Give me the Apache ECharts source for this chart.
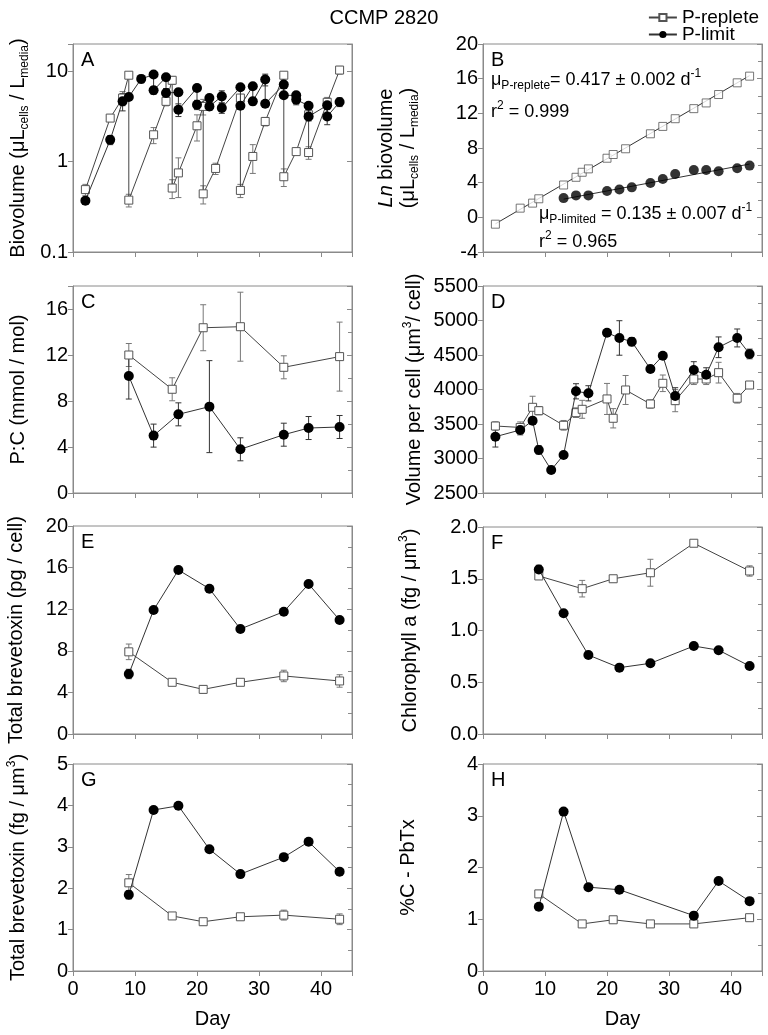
<!DOCTYPE html>
<html>
<head>
<meta charset="utf-8">
<title>CCMP 2820</title>
<script src="https://cdn.jsdelivr.net/npm/echarts@6/dist/echarts.min.js"></script>
<style>
  html, body { margin: 0; padding: 0; background: #fff; }
  #chart { width: 768px; height: 1035px; }
</style>
</head>
<body>
<div id="chart"></div>
<script>
// ---- A: biovolume (log) ----
const aRepDay = [2, 6, 8, 9, 9, 13, 15, 16, 16, 17, 20, 21, 21, 23, 27, 27, 29, 31, 34, 34, 36, 38, 38, 41, 43]
const aRepVal = [0.49, 3.03, 5.05, 9.03, 0.375, 1.98, 4.64, 7.94, 0.51, 0.75, 2.49, 4.08, 0.44, 0.84, 5.05, 0.48, 1.14, 2.78, 9.03, 0.68, 1.29, 3.3, 1.26, 4.53, 10.3]
const aRepErr = [0.07, 0.2, 0.9, 0.6, 0.06, 0.4, 0.5, 0.8, 0.12, 0.35, 0.8, 0.8, 0.1, 0.12, 0.4, 0.08, 0.4, 0.3, 0.6, 0.15, 0.1, 0.5, 0.2, 0.6, 1.0]
const aLimDay = [2, 6, 8, 9, 11, 13, 13, 15, 15, 17, 17, 20, 20, 22, 22, 24, 24, 27, 27, 29, 29, 31, 31, 34, 34, 36, 36, 38, 38, 41, 41, 43]
const aLimVal = [0.37, 1.74, 4.64, 5.19, 8.22, 9.19, 6.15, 8.58, 5.74, 5.85, 3.75, 6.53, 4.26, 5.05, 4.08, 5.27, 3.92, 6.64, 4.15, 6.81, 4.64, 8.08, 4.37, 7.11, 5.41, 5.41, 4.85, 4.15, 3.16, 4.19, 3.16, 4.56]
const aLimErr = [0.03, 0.2, 1.0, 0.3, 0.8, 0.5, 0.6, 0.4, 0.7, 0.5, 0.6, 0.3, 0.5, 0.3, 0.4, 0.8, 0.5, 0.3, 0.3, 0.4, 0.4, 1.2, 0.3, 0.4, 0.3, 0.3, 0.6, 0.3, 0.3, 0.8, 0.6, 0.5]

// ---- B: ln biovolume + fits ----
const bRepDay = [2, 6, 8, 9, 13, 15, 16, 17, 20, 21, 23, 27, 29, 31, 34, 36, 38, 41, 43]
const bRepVal = [-0.79, 1.06, 1.64, 2.14, 3.73, 4.62, 5.2, 5.59, 6.82, 7.25, 7.91, 9.64, 10.49, 11.38, 12.54, 13.2, 14.17, 15.52, 16.29]
const bLimDay = [13, 15, 17, 20, 22, 24, 27, 29, 31, 34, 36, 38, 41, 43]
const bLimVal = [2.22, 2.53, 2.53, 3.03, 3.22, 3.46, 3.96, 4.43, 5.01, 5.47, 5.47, 5.31, 5.66, 5.97]
const bRepFitDay = [2, 43]
const bRepFitVal = [-0.75, 16.35]
const bLimFitDay = [13, 43]
const bLimFitVal = [2.1, 6.15]

// ---- C: P:C ----
const cRepDay = [9, 16, 21, 27, 34, 43]
const cRepVal = [12.0, 9.02, 14.37, 14.46, 10.93, 11.86]
const cRepErr = [1, 1, 2, 3, 1, 3]
const cLimDay = [9, 13, 17, 22, 27, 34, 38, 43]
const cLimVal = [10.17, 4.99, 6.84, 7.51, 3.8, 5.07, 5.65, 5.74]
const cLimErr = [2, 1, 1, 4, 1, 1, 1, 1]

// ---- D: volume per cell ----
const dRepDay = [2, 6, 8, 9, 13, 15, 16, 20, 21, 23, 27, 29, 31, 34, 36, 38, 41, 43]
const dRepVal = [3471, 3450, 3742, 3693, 3481, 3664, 3713, 3863, 3583, 3993, 3790, 4090, 3838, 4152, 4152, 4244, 3873, 4065]
const dRepErr = [60, 80, 160, 60, 70, 70, 130, 225, 140, 210, 60, 120, 160, 80, 80, 150, 70, 40]
const dLimDay = [2, 6, 8, 9, 11, 13, 15, 17, 20, 22, 24, 27, 29, 31, 34, 36, 38, 41, 43]
const dLimVal = [3316, 3413, 3548, 3124, 2834, 3051, 3974, 3945, 4823, 4747, 4693, 4297, 4490, 3906, 4283, 4215, 4612, 4747, 4515]
const dLimErr = [150, 70, 50, 60, 0, 0, 110, 110, 0, 250, 60, 40, 0, 120, 120, 100, 150, 130, 70]

// ---- E: total brevetoxin per cell ----
const eRepDay = [9, 16, 21, 27, 34, 43]
const eRepVal = [7.9, 4.97, 4.29, 4.97, 5.58, 5.1]
const eRepErr = [0.75, 0.3, 0.35, 0.2, 0.55, 0.6]
const eLimDay = [9, 13, 17, 22, 27, 34, 38, 43]
const eLimVal = [5.77, 11.92, 15.77, 13.97, 10.1, 11.76, 14.42, 10.96]
const eLimErr = [0.45, 0, 0, 0, 0, 0, 0, 0]

// ---- F: chlorophyll a ----
const fRepDay = [9, 16, 21, 27, 34, 43]
const fRepVal = [1.527, 1.404, 1.5, 1.558, 1.843, 1.575]
const fRepErr = [0.03, 0.08, 0.03, 0.13, 0.02, 0.05]
const fLimDay = [9, 13, 17, 22, 27, 34, 38, 43]
const fLimVal = [1.59, 1.166, 0.763, 0.641, 0.683, 0.85, 0.81, 0.657]
const fLimErr = [0.04, 0, 0, 0, 0, 0, 0, 0]

// ---- G: total brevetoxin per volume ----
const gRepDay = [9, 16, 21, 27, 34, 43]
const gRepVal = [2.13, 1.33, 1.19, 1.31, 1.35, 1.25]
const gRepErr = [0.2, 0.05, 0.08, 0.05, 0.12, 0.13]
const gLimDay = [9, 13, 17, 22, 27, 34, 38, 43]
const gLimVal = [1.84, 3.89, 3.99, 2.94, 2.34, 2.75, 3.12, 2.4]
const gLimErr = [0.1, 0, 0, 0, 0, 0, 0, 0]

// ---- H: %C - PbTx ----
const hRepDay = [9, 16, 21, 27, 34, 43]
const hRepVal = [1.49, 0.91, 0.99, 0.91, 0.91, 1.03]
const hLimDay = [9, 13, 17, 22, 34, 38, 43]
const hLimVal = [1.24, 3.08, 1.62, 1.57, 1.07, 1.74, 1.35]

const FONT = 'Liberation Sans, Arial, sans-serif'
const GRAY = '#8a8a8a'
const rich = {
  sub: { fontSize: 12, fontFamily: FONT, padding: [13, 0, 0, 0] },
  sup: { fontSize: 12, fontFamily: FONT, padding: [0, 0, 13, 0] },
  it: { fontSize: 20, fontFamily: FONT, fontStyle: 'italic' }
}
const noteRich = {
  s: { fontSize: 12, fontFamily: FONT, padding: [12, 0, 0, 0] },
  p: { fontSize: 12, fontFamily: FONT, padding: [0, 0, 12, 0] }
}

const xy = (d, v) => d.map((x, i) => [x, v[i]])
const bars = (d, v, e) => d.map((x, i) => [x, v[i] - e[i], v[i] + e[i], e[i]]).filter(r => r[3] > 0)

function errorBar(params, api) {
  const x = api.value(0)
  const lo = api.coord([x, api.value(1)])
  const hi = api.coord([x, api.value(2)])
  const w = 3
  const style = { stroke: api.visual('color'), lineWidth: 1, fill: null }
  return {
    type: 'group',
    children: [
      { type: 'line', shape: { x1: hi[0], y1: hi[1], x2: lo[0], y2: lo[1] }, style },
      { type: 'line', shape: { x1: hi[0] - w, y1: hi[1], x2: hi[0] + w, y2: hi[1] }, style },
      { type: 'line', shape: { x1: lo[0] - w, y1: lo[1], x2: lo[0] + w, y2: lo[1] }, style }
    ]
  }
}

// layout of the 8 panels
const panels = [
  { letter: 'A', left: 73, top: 44, height: 208, gap: 44,
    y: { type: 'log', min: 0.1, max: 20 },
    fmt: v => { const l = Math.log10(v); return Math.abs(l - Math.round(l)) < 1e-6 ? (v < 1 ? '0.1' : String(Math.round(v))) : '' },
    name: 'Biovolume (μL{sub|cells} / L{sub|media})' },
  { letter: 'B', left: 483, top: 44, height: 208, gap: 64,
    y: { min: -4, max: 20, interval: 4 }, minor: 2,
    name: '{it|Ln} biovolume\n(μL{sub|cells} / L{sub|media})' },
  { letter: 'C', left: 73, top: 286, height: 207, gap: 44,
    y: { min: 0, max: 18, interval: 4 }, minor: 2,
    fmt: v => v > 16 ? '' : String(v),
    name: 'P:C (mmol / mol)' },
  { letter: 'D', left: 483, top: 286, height: 207, gap: 58,
    y: { min: 2500, max: 5500, interval: 500 }, minor: 2,
    fmt: v => String(v),
    name: 'Volume per cell (μm{sup|3}/ cell)' },
  { letter: 'E', left: 73, top: 526, height: 208, gap: 46,
    y: { min: 0, max: 20, interval: 4 }, minor: 2,
    name: 'Total brevetoxin (pg / cell)' },
  { letter: 'F', left: 483, top: 527, height: 207, gap: 62,
    y: { min: 0, max: 2, interval: 0.5 }, minor: 2,
    fmt: v => v.toFixed(1),
    name: 'Chlorophyll a (fg / μm{sup|3})' },
  { letter: 'G', left: 73, top: 764, height: 207, gap: 44,
    y: { min: 0, max: 5, interval: 1 }, minor: 2,
    name: 'Total brevetoxin (fg / μm{sup|3})' },
  { letter: 'H', left: 483, top: 764, height: 207, gap: 64,
    y: { min: 0, max: 4, interval: 1 }, minor: 2,
    name: '%C - PbTx' }
]

const grid = [], xAxis = [], yAxis = [], graphic = []
panels.forEach((p, i) => {
  const bottomRow = i >= 6
  grid.push({ left: p.left, top: p.top, width: 279, height: p.height, show: true, borderColor: GRAY, borderWidth: 1 })
  xAxis.push({
    type: 'value', gridIndex: i, min: 0, max: 45, interval: 10,
    axisLine: { onZero: false, lineStyle: { color: GRAY } },
    axisTick: { length: 5, lineStyle: { color: GRAY } },
    splitLine: { show: false },
    axisLabel: { show: bottomRow, fontSize: 20, color: '#000', margin: 8, fontFamily: FONT,
      formatter: v => v % 10 === 0 ? String(v) : '' },
    name: bottomRow ? 'Day' : '', nameLocation: 'middle', nameGap: 38,
    nameTextStyle: { fontSize: 20, color: '#000', fontFamily: FONT }
  })
  const base = Object.assign({ type: 'value', gridIndex: i }, p.y)
  yAxis.push(Object.assign({}, base, {
    position: 'left',
    axisLine: { show: true, onZero: false, lineStyle: { color: GRAY } },
    axisTick: { length: 5, lineStyle: { color: GRAY } },
    splitLine: { show: false },
    axisLabel: { fontSize: 20, color: '#000', margin: 5, fontFamily: FONT, formatter: p.fmt },
    name: p.name, nameLocation: 'middle', nameRotate: 90, nameGap: p.gap,
    nameTextStyle: { fontSize: 20, color: '#000', fontFamily: FONT, lineHeight: 22, rich: rich }
  }))
  yAxis.push(Object.assign({}, base, {
    position: 'right',
    axisLine: { show: true, onZero: false, lineStyle: { color: GRAY } },
    axisTick: { inside: true, length: 5, lineStyle: { color: GRAY } },
    minorTick: { show: !!p.minor, splitNumber: p.minor || 5, length: 4, lineStyle: { color: GRAY } },
    splitLine: { show: false },
    axisLabel: { show: false }
  }))
  graphic.push({ type: 'text', left: p.left + 8, top: p.top + 6,
    style: { text: p.letter, fontSize: 20, fontFamily: FONT, fill: '#000' } })
})

// B annotations (growth rates of the fits)
graphic.push(
  { type: 'text', x: 491, y: 80, style: { text: 'μ{s|P-replete}= 0.417 ± 0.002 d{p|-1}', fontSize: 18, fontFamily: FONT, fill: '#000', verticalAlign: 'middle', rich: noteRich } },
  { type: 'text', x: 491, y: 112, style: { text: 'r{p|2} = 0.999', fontSize: 18, fontFamily: FONT, fill: '#000', verticalAlign: 'middle', rich: noteRich } },
  { type: 'text', x: 539, y: 214, style: { text: 'μ{s|P-limited} = 0.135 ± 0.007 d{p|-1}', fontSize: 18, fontFamily: FONT, fill: '#000', verticalAlign: 'middle', rich: noteRich } },
  { type: 'text', x: 539, y: 242, style: { text: 'r{p|2} = 0.965', fontSize: 18, fontFamily: FONT, fill: '#000', verticalAlign: 'middle', rich: noteRich } }
)

const repStyle = {
  symbol: 'rect', symbolSize: 8,
  itemStyle: { color: '#fff', borderColor: '#555', borderWidth: 1 },
  lineStyle: { color: '#444', width: 1 }
}
const limStyle = {
  symbol: 'circle', symbolSize: 10,
  itemStyle: { color: '#000' },
  lineStyle: { color: '#333', width: 1 }
}

function line(name, i, data, st, z) {
  return Object.assign({ type: 'line', name: name, xAxisIndex: i, yAxisIndex: 2 * i, data: data, z: z }, st)
}
function errs(i, data, color) {
  return { type: 'custom', name: 'err', xAxisIndex: i, yAxisIndex: 2 * i, renderItem: errorBar,
    itemStyle: { color: color }, encode: { x: 0, y: [1, 2] }, data: data, z: 1 }
}

const series = [
  line('P-replete', 0, xy(aRepDay, aRepVal), repStyle, 3),
  line('P-limit', 0, xy(aLimDay, aLimVal), limStyle, 4),
  errs(0, bars(aRepDay, aRepVal, aRepErr), '#777'),
  errs(0, bars(aLimDay, aLimVal, aLimErr), '#333'),

  { type: 'line', name: 'fit', xAxisIndex: 1, yAxisIndex: 2, data: xy(bRepFitDay, bRepFitVal), symbol: 'none', lineStyle: { color: '#333', width: 1 }, z: 2 },
  { type: 'line', name: 'fit', xAxisIndex: 1, yAxisIndex: 2, data: xy(bLimFitDay, bLimFitVal), symbol: 'none', lineStyle: { color: '#333', width: 1 }, z: 2 },
  Object.assign({ type: 'scatter', name: 'P-replete', xAxisIndex: 1, yAxisIndex: 2, data: xy(bRepDay, bRepVal), z: 3 }, repStyle),
  Object.assign({ type: 'scatter', name: 'P-limit', xAxisIndex: 1, yAxisIndex: 2, data: xy(bLimDay, bLimVal), z: 4 }, limStyle),

  line('P-replete', 2, xy(cRepDay, cRepVal), repStyle, 3),
  line('P-limit', 2, xy(cLimDay, cLimVal), limStyle, 4),
  errs(2, bars(cRepDay, cRepVal, cRepErr), '#777'),
  errs(2, bars(cLimDay, cLimVal, cLimErr), '#333'),

  line('P-replete', 3, xy(dRepDay, dRepVal), repStyle, 3),
  line('P-limit', 3, xy(dLimDay, dLimVal), limStyle, 4),
  errs(3, bars(dRepDay, dRepVal, dRepErr), '#777'),
  errs(3, bars(dLimDay, dLimVal, dLimErr), '#333'),

  line('P-replete', 4, xy(eRepDay, eRepVal), repStyle, 3),
  line('P-limit', 4, xy(eLimDay, eLimVal), limStyle, 4),
  errs(4, bars(eRepDay, eRepVal, eRepErr), '#777'),
  errs(4, bars(eLimDay, eLimVal, eLimErr), '#333'),

  line('P-replete', 5, xy(fRepDay, fRepVal), repStyle, 3),
  line('P-limit', 5, xy(fLimDay, fLimVal), limStyle, 4),
  errs(5, bars(fRepDay, fRepVal, fRepErr), '#777'),
  errs(5, bars(fLimDay, fLimVal, fLimErr), '#333'),

  line('P-replete', 6, xy(gRepDay, gRepVal), repStyle, 3),
  line('P-limit', 6, xy(gLimDay, gLimVal), limStyle, 4),
  errs(6, bars(gRepDay, gRepVal, gRepErr), '#777'),
  errs(6, bars(gLimDay, gLimVal, gLimErr), '#333'),

  line('P-replete', 7, xy(hRepDay, hRepVal), repStyle, 3),
  line('P-limit', 7, xy(hLimDay, hLimVal), limStyle, 4)
]

const option = {
  animation: false,
  backgroundColor: '#fff',
  textStyle: { fontFamily: FONT, color: '#000' },
  title: { text: 'CCMP 2820', left: 'center', top: 3,
    textStyle: { fontSize: 20, fontWeight: 'normal', color: '#000', fontFamily: FONT } },
  legend: {
    data: ['P-replete', 'P-limit'],
    orient: 'vertical', right: 4, top: 3, itemGap: -2,
    itemWidth: 28, itemHeight: 9,
    textStyle: { fontSize: 19, color: '#000', fontFamily: FONT }
  },
  grid: grid,
  xAxis: xAxis,
  yAxis: yAxis,
  graphic: graphic,
  series: series
}

const myChart = echarts.init(document.getElementById('chart'))
myChart.setOption(option)
</script>
</body>
</html>
